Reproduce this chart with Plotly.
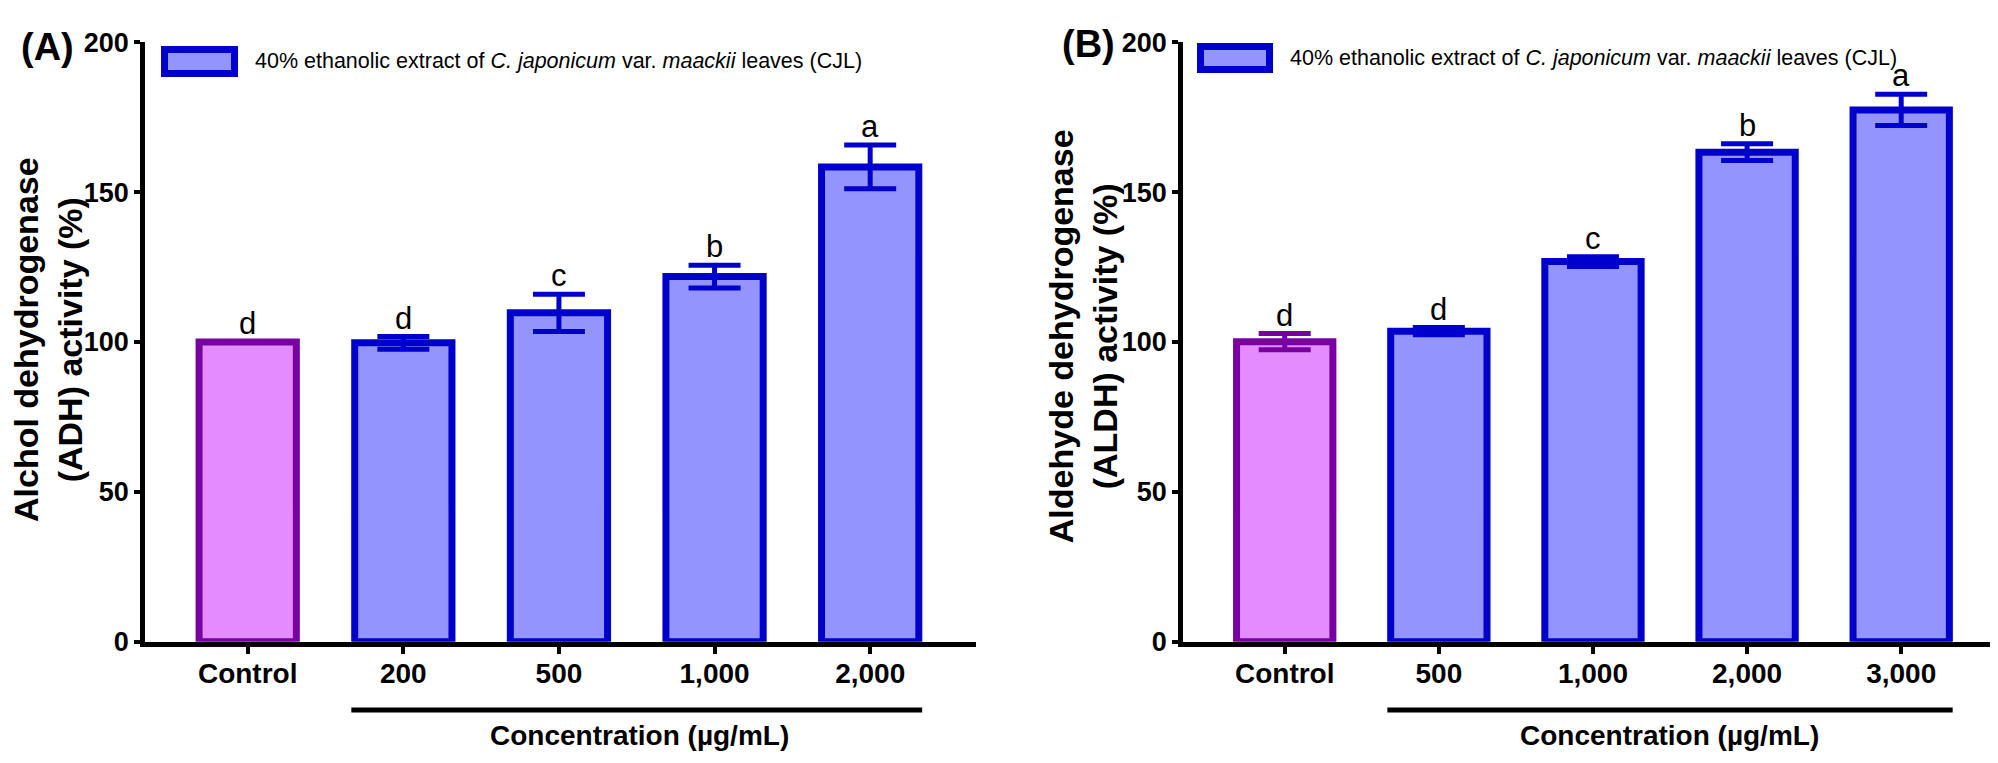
import plotly.graph_objects as go

W, H = 1998, 763

# panel A: ADH
labels_a = ["Control", "200", "500", "1,000", "2,000"]
adh = [100.0, 99.7, 109.7, 121.8, 158.4]
adh_err = [0.0, 2.1, 6.2, 3.8, 7.3]
adh_letters = ["d", "d", "c", "b", "a"]

# panel B: ALDH
labels_b = ["Control", "500", "1,000", "2,000", "3,000"]
aldh = [100.1, 103.6, 126.8, 163.3, 177.4]
aldh_err = [2.7, 1.2, 1.6, 2.8, 5.2]
aldh_letters = ["d", "d", "c", "b", "a"]

yticks = [0, 50, 100, 150, 200]
legend_text = "40% ethanolic extract of <i>C. japonicum</i> var. <i>maackii</i> leaves (CJL)"
xtitle = "Concentration (µg/mL)"
ytitle_a = "Alchol dehydrogenase<br>(ADH) activity (%)"
ytitle_b = "Aldehyde dehydrogenase<br>(ALDH) activity (%)"

FONT = "Liberation Sans, Arial, sans-serif"
CTRL_FILL, CTRL_LINE = "rgb(228,140,255)", "rgb(120,0,160)"
CJL_FILL, CJL_LINE = "rgb(148,148,255)", "rgb(0,0,204)"
BAR_W = 0.625
BAR_OUTER = 0.668


def px(x):
    return x / W


def py(y):
    return 1 - y / H


fig = go.Figure()

panels = [
    (labels_a, adh, adh_err, adh_letters, "x", "y"),
    (labels_b, aldh, aldh_err, aldh_letters, "x2", "y2"),
]

for labels, vals, errs, letters, xa, ya in panels:
    idx = list(range(len(labels)))
    fig.add_trace(go.Bar(
        x=idx[:1], y=vals[:1], width=BAR_W, xaxis=xa, yaxis=ya,
        marker=dict(color=CTRL_FILL, line=dict(color=CTRL_LINE, width=7)),
        error_y=dict(type="data", array=errs[:1], thickness=5, width=26, color=CTRL_LINE),
        showlegend=False))
    fig.add_trace(go.Bar(
        x=idx[1:], y=vals[1:], width=BAR_W, xaxis=xa, yaxis=ya,
        marker=dict(color=CJL_FILL, line=dict(color=CJL_LINE, width=7)),
        error_y=dict(type="data", array=errs[1:], thickness=5, width=26, color=CJL_LINE),
        showlegend=False))
    for i, v, e, t in zip(idx, vals, errs, letters):
        fig.add_annotation(x=i, y=v + e, xref=xa, yref=ya, text=t, showarrow=False,
                           yanchor="bottom", borderpad=0,
                           font=dict(family=FONT, size=31, color="black"))
    # bar under the treatment groups
    fig.add_shape(type="line", xref=xa, yref="paper",
                  x0=idx[1] - BAR_OUTER / 2, x1=idx[-1] + BAR_OUTER / 2,
                  y0=py(715), y1=py(715), line=dict(color="black", width=5))

axis_common = dict(showgrid=False, zeroline=False, showline=True, linecolor="black",
                   linewidth=4.5, ticks="outside", tickwidth=4, tickcolor="black")
xfont = dict(family=FONT, size=28, color="black", weight="bold")
yfont = dict(family=FONT, size=27, color="black", weight="bold")

fig.update_layout(
    width=W, height=H, margin=dict(l=0, r=0, t=0, b=0),
    plot_bgcolor="white", paper_bgcolor="white", barmode="overlay",
    xaxis=dict(domain=[px(137), px(968)], range=[-0.66, 4.68], anchor="y",
               tickvals=list(range(5)), ticktext=labels_a, ticklen=8,
               ticklabelstandoff=-5, tickfont=xfont, **axis_common),
    yaxis=dict(domain=[py(644), py(20)], range=[0, 200], anchor="x",
               tickvals=yticks, ticklen=6, tickfont=yfont, **axis_common),
    xaxis2=dict(domain=[px(1175), 1.0], range=[-0.66, 4.68], anchor="y2",
                tickvals=list(range(5)), ticktext=labels_b, ticklen=8,
                ticklabelstandoff=-5, tickfont=xfont, **axis_common),
    yaxis2=dict(domain=[py(644), py(20)], range=[0, 200], anchor="x2",
                tickvals=yticks, ticklen=6, tickfont=yfont, **axis_common),
)

# panel tags, y titles, x titles, legends
text_items = [
    # (x px, y px, text, size, bold, angle, xanchor)
    (39, 25, "(A)", 38, True, 0, "center"),
    (1080, 22, "(B)", 38, True, 0, "center"),
    (40, 330, ytitle_a, 34, True, -90, "center"),
    (1075, 326, ytitle_b, 34, True, -90, "center"),
    (631, 742, xtitle, 28, True, 0, "center"),
    (1661, 742, xtitle, 28, True, 0, "center"),
    (246, 40, legend_text, 21.5, False, 0, "left"),
    (1281, 36, legend_text, 21.5, False, 0, "left"),
]
for x, y, t, s, b, ang, xan in text_items:
    fig.add_annotation(x=px(x), y=py(y), xref="paper", yref="paper", text=t,
                       showarrow=False, xanchor=xan, yanchor="middle", textangle=ang,
                       borderpad=0,
                       font=dict(family=FONT, size=s, color="black",
                                 weight="bold" if b else "normal"))

# legend swatches
for x0, y0, x1, y1 in [(153, 24, 230, 56), (1189, 21, 1265, 52)]:
    fig.add_shape(type="rect", xref="paper", yref="paper",
                  x0=px(x0 + 3.5), x1=px(x1 - 3.5), y0=py(y1 - 3.5), y1=py(y0 + 3.5),
                  fillcolor=CJL_FILL, line=dict(color=CJL_LINE, width=7))

fig.write_html("out.html")
